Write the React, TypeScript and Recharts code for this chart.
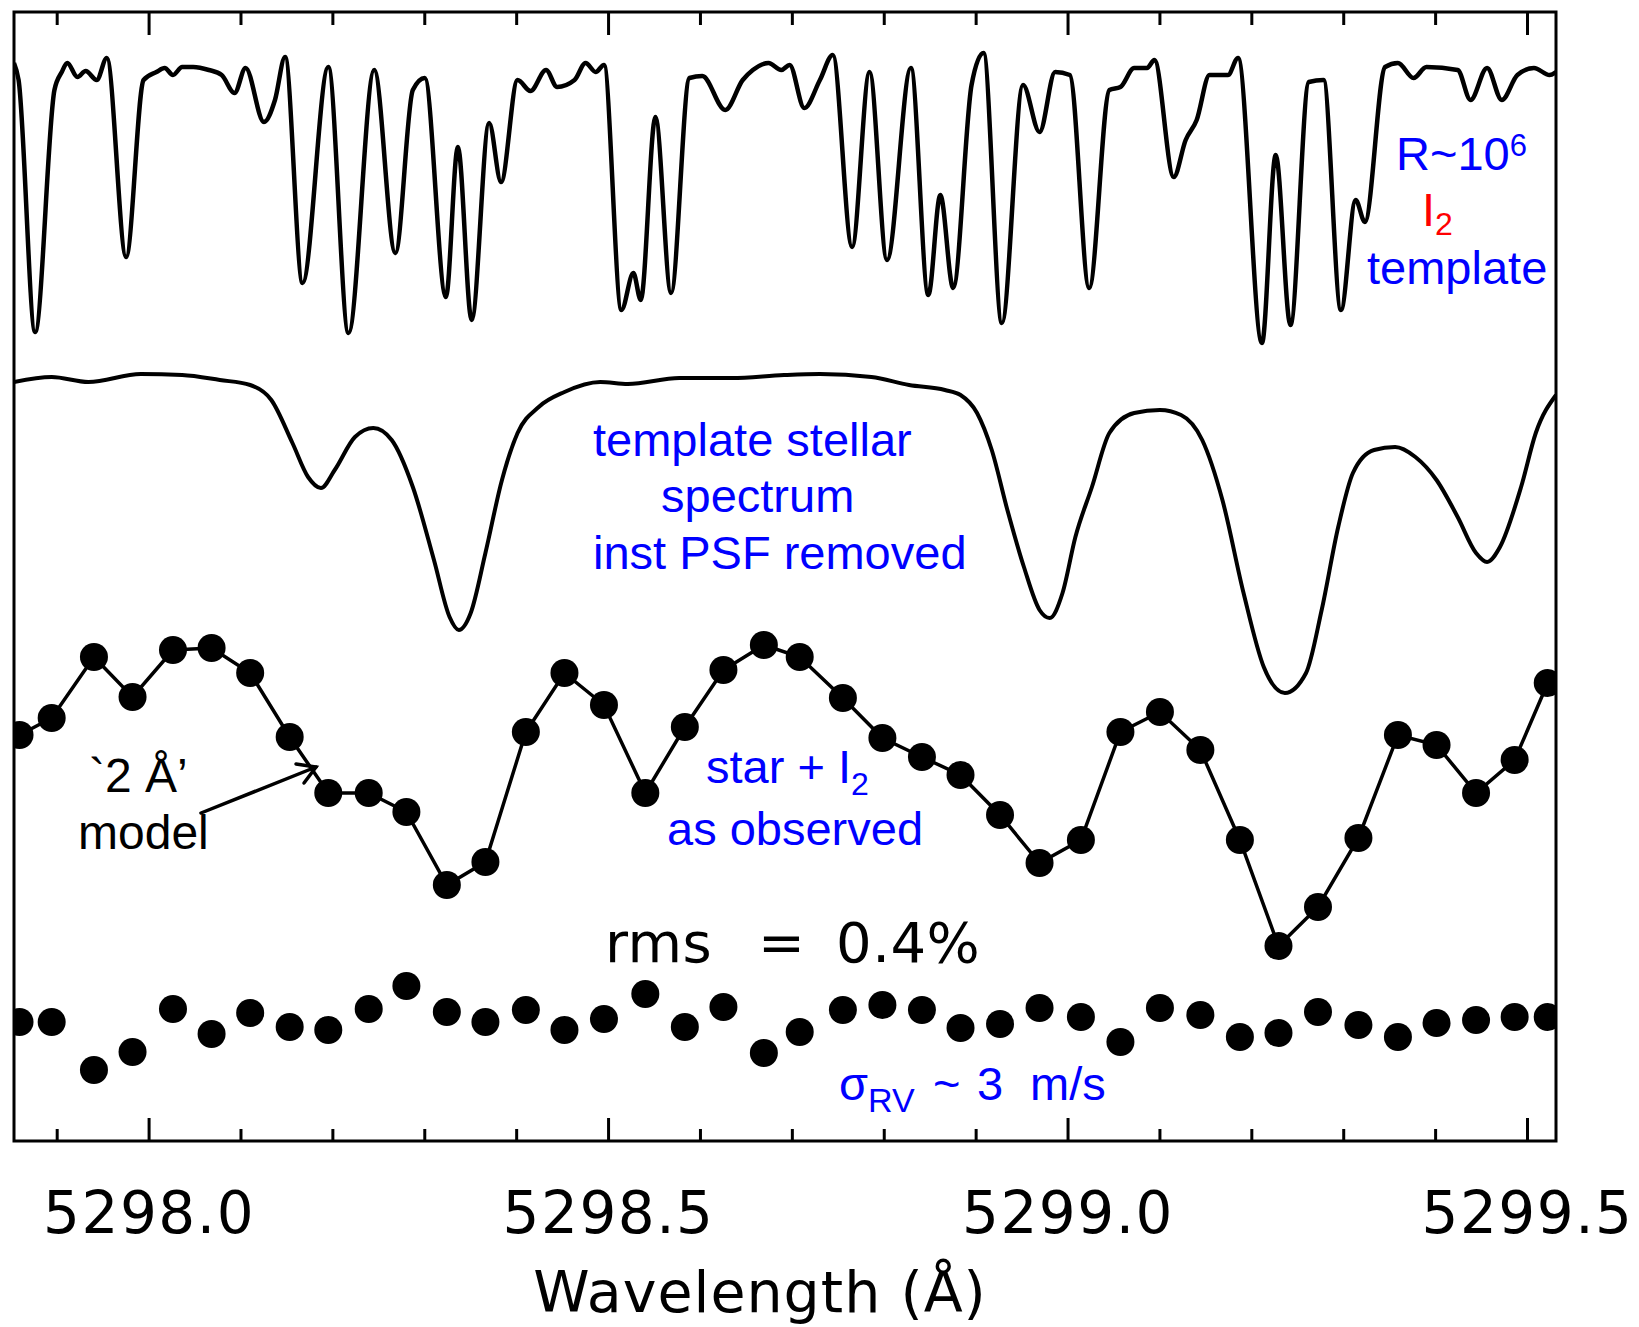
import { ComposedChart, Line, ReferenceArea, Scatter, XAxis, YAxis } from "recharts";

// wavelength axis (Angstrom) and vertical scale (flux + offset, arbitrary units)
const X_MIN = 5297.853;
const X_MAX = 5299.531;
const Y_MAX = 11.29;
const TICKS = [
  5297.9, 5298.0, 5298.1, 5298.2, 5298.3, 5298.4, 5298.5, 5298.6, 5298.7, 5298.8, 5298.9, 5299.0, 5299.1, 5299.2,
  5299.3, 5299.4, 5299.5,
];

// R~10^6 iodine cell template
const I2_WAVE = [
  5297.853, 5297.858, 5297.876, 5297.897, 5297.905, 5297.911, 5297.922, 5297.931, 5297.943, 5297.954, 5297.975,
  5297.994, 5298.008, 5298.017, 5298.026, 5298.036, 5298.048, 5298.065, 5298.079, 5298.093, 5298.105, 5298.125,
  5298.137, 5298.148, 5298.167, 5298.195, 5298.217, 5298.245, 5298.268, 5298.287, 5298.3, 5298.323, 5298.336,
  5298.351, 5298.37, 5298.383, 5298.401, 5298.415, 5298.432, 5298.444, 5298.463, 5298.475, 5298.486, 5298.495,
  5298.514, 5298.527, 5298.535, 5298.551, 5298.568, 5298.588, 5298.602, 5298.627, 5298.646, 5298.657, 5298.674,
  5298.688, 5298.697, 5298.713, 5298.73, 5298.744, 5298.765, 5298.784, 5298.803, 5298.829, 5298.848, 5298.861,
  5298.875, 5298.895, 5298.908, 5298.928, 5298.951, 5298.969, 5298.986, 5299.002, 5299.023, 5299.045, 5299.057,
  5299.072, 5299.086, 5299.094, 5299.115, 5299.128, 5299.14, 5299.154, 5299.174, 5299.185, 5299.211, 5299.226,
  5299.242, 5299.262, 5299.278, 5299.297, 5299.313, 5299.323, 5299.345, 5299.359, 5299.376, 5299.39, 5299.424,
  5299.438, 5299.456, 5299.472, 5299.489, 5299.507, 5299.524, 5299.531,
];
const I2_FLUX = [
  10.78, 10.61, 8.09, 10.51, 10.69, 10.78, 10.64, 10.7, 10.61, 10.83, 8.84, 10.61, 10.69, 10.73, 10.66, 10.74, 10.74,
  10.71, 10.66, 10.48, 10.73, 10.19, 10.41, 10.84, 8.58, 10.74, 8.08, 10.71, 8.88, 10.51, 10.63, 8.44, 9.94, 8.21,
  10.18, 9.59, 10.61, 10.5, 10.71, 10.54, 10.61, 10.78, 10.69, 10.76, 8.31, 8.68, 8.41, 10.24, 8.48, 10.63, 10.65,
  10.31, 10.61, 10.71, 10.78, 10.71, 10.76, 10.33, 10.61, 10.86, 8.94, 10.69, 8.81, 10.73, 8.46, 9.46, 8.53, 10.56,
  10.88, 8.18, 10.56, 10.09, 10.69, 10.66, 8.53, 10.51, 10.54, 10.73, 10.73, 10.81, 9.64, 10.01, 10.21, 10.66, 10.66,
  10.83, 7.98, 9.86, 8.16, 10.59, 10.61, 8.31, 9.41, 9.19, 10.74, 10.78, 10.63, 10.74, 10.71, 10.41, 10.73, 10.41,
  10.66, 10.73, 10.66, 10.69,
];

// template stellar spectrum, instrumental PSF removed
const STAR_WAVE = [
  5297.853, 5297.894, 5297.934, 5297.991, 5298.036, 5298.077, 5298.11, 5298.133, 5298.156, 5298.173, 5298.187,
  5298.202, 5298.224, 5298.244, 5298.264, 5298.287, 5298.31, 5298.327, 5298.337, 5298.35, 5298.366, 5298.384,
  5298.401, 5298.424, 5298.452, 5298.491, 5298.521, 5298.577, 5298.634, 5298.691, 5298.73, 5298.786, 5298.827,
  5298.866, 5298.883, 5298.901, 5298.917, 5298.934, 5298.952, 5298.969, 5298.98, 5298.994, 5299.008, 5299.026,
  5299.045, 5299.072, 5299.1, 5299.123, 5299.146, 5299.168, 5299.191, 5299.213, 5299.236, 5299.259, 5299.276,
  5299.294, 5299.31, 5299.333, 5299.356, 5299.378, 5299.401, 5299.424, 5299.444, 5299.456, 5299.47, 5299.493,
  5299.509, 5299.531,
];
const STAR_FLUX = [
  7.59, 7.64, 7.59, 7.67, 7.66, 7.61, 7.56, 7.41, 6.98, 6.64, 6.53, 6.71, 7.04, 7.13, 7.01, 6.54, 5.81, 5.24, 5.11,
  5.28, 5.88, 6.61, 7.08, 7.34, 7.49, 7.59, 7.57, 7.63, 7.63, 7.66, 7.67, 7.64, 7.56, 7.51, 7.46, 7.28, 6.91, 6.31,
  5.74, 5.31, 5.23, 5.48, 6.04, 6.54, 7.08, 7.28, 7.31, 7.26, 7.01, 6.41, 5.48, 4.74, 4.48, 4.68, 5.31, 6.14, 6.68,
  6.91, 6.94, 6.84, 6.61, 6.24, 5.88, 5.79, 5.94, 6.54, 7.08, 7.46,
];

// detector pixels: star + I2 as observed, and fit residuals
const PIX_WAVE = [
  5297.859, 5297.894, 5297.94, 5297.982, 5298.026, 5298.068, 5298.11, 5298.153, 5298.195, 5298.239, 5298.28,
  5298.324, 5298.366, 5298.41, 5298.452, 5298.495, 5298.54, 5298.583, 5298.625, 5298.669, 5298.708, 5298.755,
  5298.798, 5298.841, 5298.883, 5298.926, 5298.969, 5299.014, 5299.057, 5299.1, 5299.144, 5299.187, 5299.229,
  5299.272, 5299.316, 5299.359, 5299.401, 5299.444, 5299.486, 5299.522,
];
const OBS_FLUX = [
  4.06, 4.23, 4.84, 4.44, 4.91, 4.93, 4.68, 4.04, 3.48, 3.48, 3.29, 2.56, 2.79, 4.09, 4.68, 4.36, 3.48, 4.14, 4.71,
  4.96, 4.84, 4.43, 4.03, 3.84, 3.66, 3.26, 2.78, 3.01, 4.09, 4.29, 3.91, 3.01, 1.95, 2.34, 3.03, 4.06, 3.96, 3.48,
  3.81, 4.58,
];
const RES_FLUX = [
  1.19, 1.19, 0.71, 0.89, 1.32, 1.07, 1.28, 1.14, 1.11, 1.32, 1.55, 1.29, 1.19, 1.31, 1.11, 1.22, 1.47, 1.14, 1.34,
  0.88, 1.09, 1.31, 1.36, 1.31, 1.13, 1.17, 1.33, 1.24, 0.99, 1.33, 1.26, 1.04, 1.08, 1.29, 1.16, 1.04, 1.18, 1.21,
  1.24, 1.24,
];

const zip = (w: number[], v: number[]) => w.map((x, i) => ({ w: x, v: v[i] }));
const i2Data = zip(I2_WAVE, I2_FLUX);
const starData = zip(STAR_WAVE, STAR_FLUX);
const obsData = zip(PIX_WAVE, OBS_FLUX);
const resData = zip(PIX_WAVE, RES_FLUX);

const AXIS_FONT = "'DejaVu Sans', sans-serif";
const NOTE_FONT = "'Liberation Sans', Arial, sans-serif";
const BLUE = "#0000ff";

const isMajor = (v: number) => Math.abs(v * 2 - Math.round(v * 2)) < 1e-6;

function BottomTick(props: any) {
  const { x, y, payload } = props;
  const major = isMajor(payload.value);
  return (
    <g>
      <line x1={x} x2={x} y1={y} y2={y - (major ? 23 : 12)} stroke="#000" strokeWidth={3} />
      {major && (
        <text x={x} y={y + 92} textAnchor="middle" fontFamily={AXIS_FONT} fontSize={58} letterSpacing={1.5} fill="#000">
          {payload.value.toFixed(1)}
        </text>
      )}
    </g>
  );
}

function TopTick(props: any) {
  const { x, y, payload } = props;
  const major = isMajor(payload.value);
  return <line x1={x} x2={x} y1={y} y2={y + (major ? 23 : 13)} stroke="#000" strokeWidth={3} />;
}

const ResidualDot = (p: any) => <circle cx={p.cx} cy={p.cy} r={14} fill="#000" />;

function Notes() {
  return (
    <svg width={1639} height={1327} style={{ position: "absolute", left: 0, top: 0, pointerEvents: "none" }}>
      <g fontFamily={NOTE_FONT} fontSize={47} fill={BLUE}>
        <text x={1396} y={170}>
          R~10<tspan fontSize={31} dy={-14}>6</tspan>
        </text>
        <text x={1422} y={226} fill="#ff0000">
          I<tspan fontSize={32} dy={9}>2</tspan>
        </text>
        <text x={1367} y={284}>template</text>

        <text x={593} y={456}>template stellar</text>
        <text x={661} y={512}>spectrum</text>
        <text x={593} y={569}>inst PSF removed</text>

        <text x={706} y={783}>
          star + I<tspan fontSize={32} dy={12}>2</tspan>
        </text>
        <text x={667} y={845}>as observed</text>

        <text x={839} y={1100}>
          σ<tspan fontSize={34} dy={12}>RV</tspan>
        </text>
        <text x={933} y={1100}>~</text>
        <text x={977} y={1100}>3</text>
        <text x={1030} y={1100}>m/s</text>
      </g>

      <g fontFamily={NOTE_FONT} fontSize={48} fill="#000">
        <text x={89} y={792}>`2 Å’</text>
        <text x={78} y={849}>model</text>
      </g>
      <g stroke="#000" strokeWidth={3.5} fill="none" strokeLinecap="round">
        <line x1={201} y1={813} x2={316} y2={767} />
        <polyline points="296,764 316,767 304,783" />
      </g>

      <g fontFamily={AXIS_FONT} fontSize={56} fill="#000" letterSpacing={0.5}>
        <text x={605} y={962}>rms</text>
        <text x={758} y={962}>=</text>
        <text x={836} y={962}>0.4%</text>
      </g>
      <text x={760} y={1312} textAnchor="middle" fontFamily={AXIS_FONT} fontSize={57} letterSpacing={1} fill="#000">
        Wavelength (Å)
      </text>
    </svg>
  );
}

export default function App() {
  return (
    <div style={{ position: "absolute", left: 0, top: 0, width: 1639, height: 1327, background: "#fff" }}>
      <ComposedChart width={1639} height={1327} margin={{ top: 10, right: 83, bottom: 86, left: 14 }}>
        <XAxis
          dataKey="w"
          type="number"
          domain={[X_MIN, X_MAX]}
          allowDataOverflow
          ticks={TICKS}
          interval={0}
          tick={BottomTick}
          tickLine={false}
          axisLine={false}
          tickSize={0}
          tickMargin={0}
          height={100}
        />
        <XAxis
          xAxisId="top"
          orientation="top"
          dataKey="w"
          type="number"
          domain={[X_MIN, X_MAX]}
          allowDataOverflow
          ticks={TICKS}
          interval={0}
          tick={TopTick}
          tickLine={false}
          axisLine={false}
          tickSize={0}
          tickMargin={0}
          height={2}
        />
        <YAxis type="number" domain={[0, Y_MAX]} allowDataOverflow hide />
        <ReferenceArea x1={X_MIN} x2={X_MAX} y1={0} y2={Y_MAX} stroke="#000" strokeWidth={3} fill="none" fillOpacity={0} />
        <Line
          data={i2Data}
          dataKey="v"
          type="monotone"
          stroke="#000"
          strokeWidth={4.5}
          strokeLinejoin="round"
          dot={false}
          isAnimationActive={false}
        />
        <Line data={starData} dataKey="v" type="monotone" stroke="#000" strokeWidth={4} dot={false} isAnimationActive={false} />
        <Line
          data={obsData}
          dataKey="v"
          type="linear"
          stroke="#000"
          strokeWidth={3.5}
          dot={{ r: 14, fill: "#000", stroke: "#000", strokeWidth: 0 }}
          isAnimationActive={false}
        />
        <Scatter data={resData} dataKey="v" fill="#000" shape={ResidualDot} isAnimationActive={false} />
      </ComposedChart>
      <Notes />
    </div>
  );
}
